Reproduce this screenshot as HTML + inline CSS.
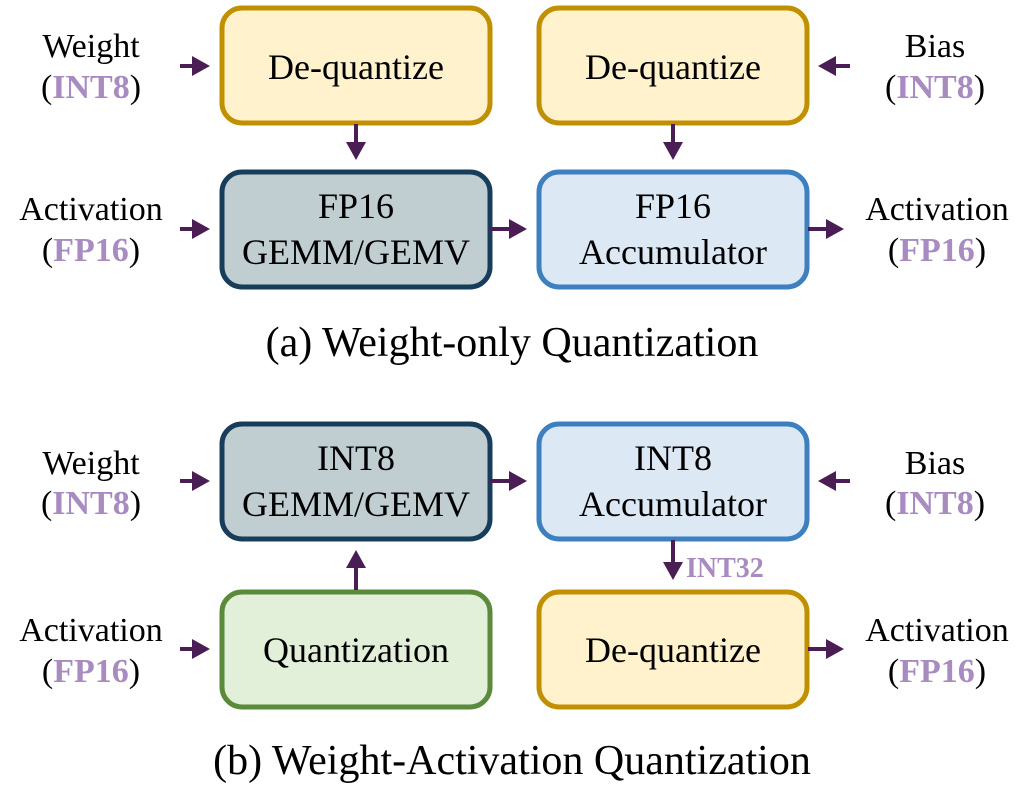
<!DOCTYPE html>
<html><head><meta charset="utf-8"><style>body{margin:0;background:#fff} svg text{font-family:"Liberation Serif","Times New Roman",Times,"Noto Serif CJK SC",serif}</style></head><body>
<svg width="1024" height="792" viewBox="0 0 1024 792" xmlns="http://www.w3.org/2000/svg">
<defs><marker id="a" markerWidth="4.5" markerHeight="5" refX="3" refY="2.5" orient="auto" markerUnits="strokeWidth"><path d="M0,0L4.5,2.5L0,5z" fill="#4a1e55"/></marker></defs>
<g stroke-width="5">
<rect x="222" y="8" width="268" height="115" rx="20" fill="#fff2cc" stroke="#c09000"/>
<rect x="539" y="8" width="268" height="115" rx="20" fill="#fff2cc" stroke="#c09000"/>
<rect x="222" y="172" width="268" height="115" rx="20" fill="#c0ced2" stroke="#183d5a"/>
<rect x="539" y="172" width="268" height="115" rx="20" fill="#dce9f5" stroke="#3d7fbf"/>
<rect x="222" y="424" width="268" height="115" rx="20" fill="#c0ced2" stroke="#183d5a"/>
<rect x="539" y="424" width="268" height="115" rx="20" fill="#dce9f5" stroke="#3d7fbf"/>
<rect x="222" y="592" width="268" height="115" rx="20" fill="#e2efd9" stroke="#5a8a3a"/>
<rect x="539" y="592" width="268" height="115" rx="20" fill="#fff2cc" stroke="#c09000"/>
</g>
<g stroke="#4a1e55" stroke-width="4" marker-end="url(#a)">
<line x1="180" y1="66" x2="204" y2="66"/>
<line x1="850" y1="66" x2="824" y2="66"/>
<line x1="356" y1="124" x2="356" y2="154"/>
<line x1="673" y1="124" x2="673" y2="154"/>
<line x1="180" y1="229" x2="204" y2="229"/>
<line x1="490" y1="229" x2="521" y2="229"/>
<line x1="808" y1="229" x2="838" y2="229"/>
<line x1="180" y1="481" x2="204" y2="481"/>
<line x1="490" y1="481" x2="521" y2="481"/>
<line x1="850" y1="481" x2="824" y2="481"/>
<line x1="356" y1="590" x2="356" y2="556"/>
<line x1="673" y1="540" x2="673" y2="574"/>
<line x1="180" y1="649" x2="204" y2="649"/>
<line x1="808" y1="649" x2="838" y2="649"/>
</g>
<g font-size="36" text-anchor="middle" fill="#000">
<text x="356" y="79">De-quantize</text>
<text x="673" y="79">De-quantize</text>
<text x="356" y="218">FP16</text><text x="356" y="264">GEMM/GEMV</text>
<text x="673" y="218">FP16</text><text x="673" y="264">Accumulator</text>
<text x="356" y="470">INT8</text><text x="356" y="516">GEMM/GEMV</text>
<text x="673" y="470">INT8</text><text x="673" y="516">Accumulator</text>
<text x="356" y="662">Quantization</text>
<text x="673" y="662">De-quantize</text>
</g>
<g font-size="34" text-anchor="middle" fill="#000">
<text x="91" y="57">Weight</text><text x="91" y="98">(<tspan fill="#a88bc0" font-weight="bold">INT8</tspan>)</text>
<text x="935" y="57">Bias</text><text x="935" y="98">(<tspan fill="#a88bc0" font-weight="bold">INT8</tspan>)</text>
<text x="91" y="220">Activation</text><text x="91" y="261">(<tspan fill="#a88bc0" font-weight="bold">FP16</tspan>)</text>
<text x="937" y="220">Activation</text><text x="937" y="261">(<tspan fill="#a88bc0" font-weight="bold">FP16</tspan>)</text>
<text x="91" y="474">Weight</text><text x="91" y="514">(<tspan fill="#a88bc0" font-weight="bold">INT8</tspan>)</text>
<text x="935" y="474">Bias</text><text x="935" y="514">(<tspan fill="#a88bc0" font-weight="bold">INT8</tspan>)</text>
<text x="91" y="641">Activation</text><text x="91" y="682">(<tspan fill="#a88bc0" font-weight="bold">FP16</tspan>)</text>
<text x="937" y="641">Activation</text><text x="937" y="682">(<tspan fill="#a88bc0" font-weight="bold">FP16</tspan>)</text>
</g>
<text x="686" y="577" font-size="28" font-weight="bold" fill="#a88bc0">INT32</text>
<g font-size="42" text-anchor="middle" fill="#000">
<text x="512" y="356">(a) Weight-only Quantization</text>
<text x="512" y="774">(b) Weight-Activation Quantization</text>
</g>
</svg>
</body></html>
